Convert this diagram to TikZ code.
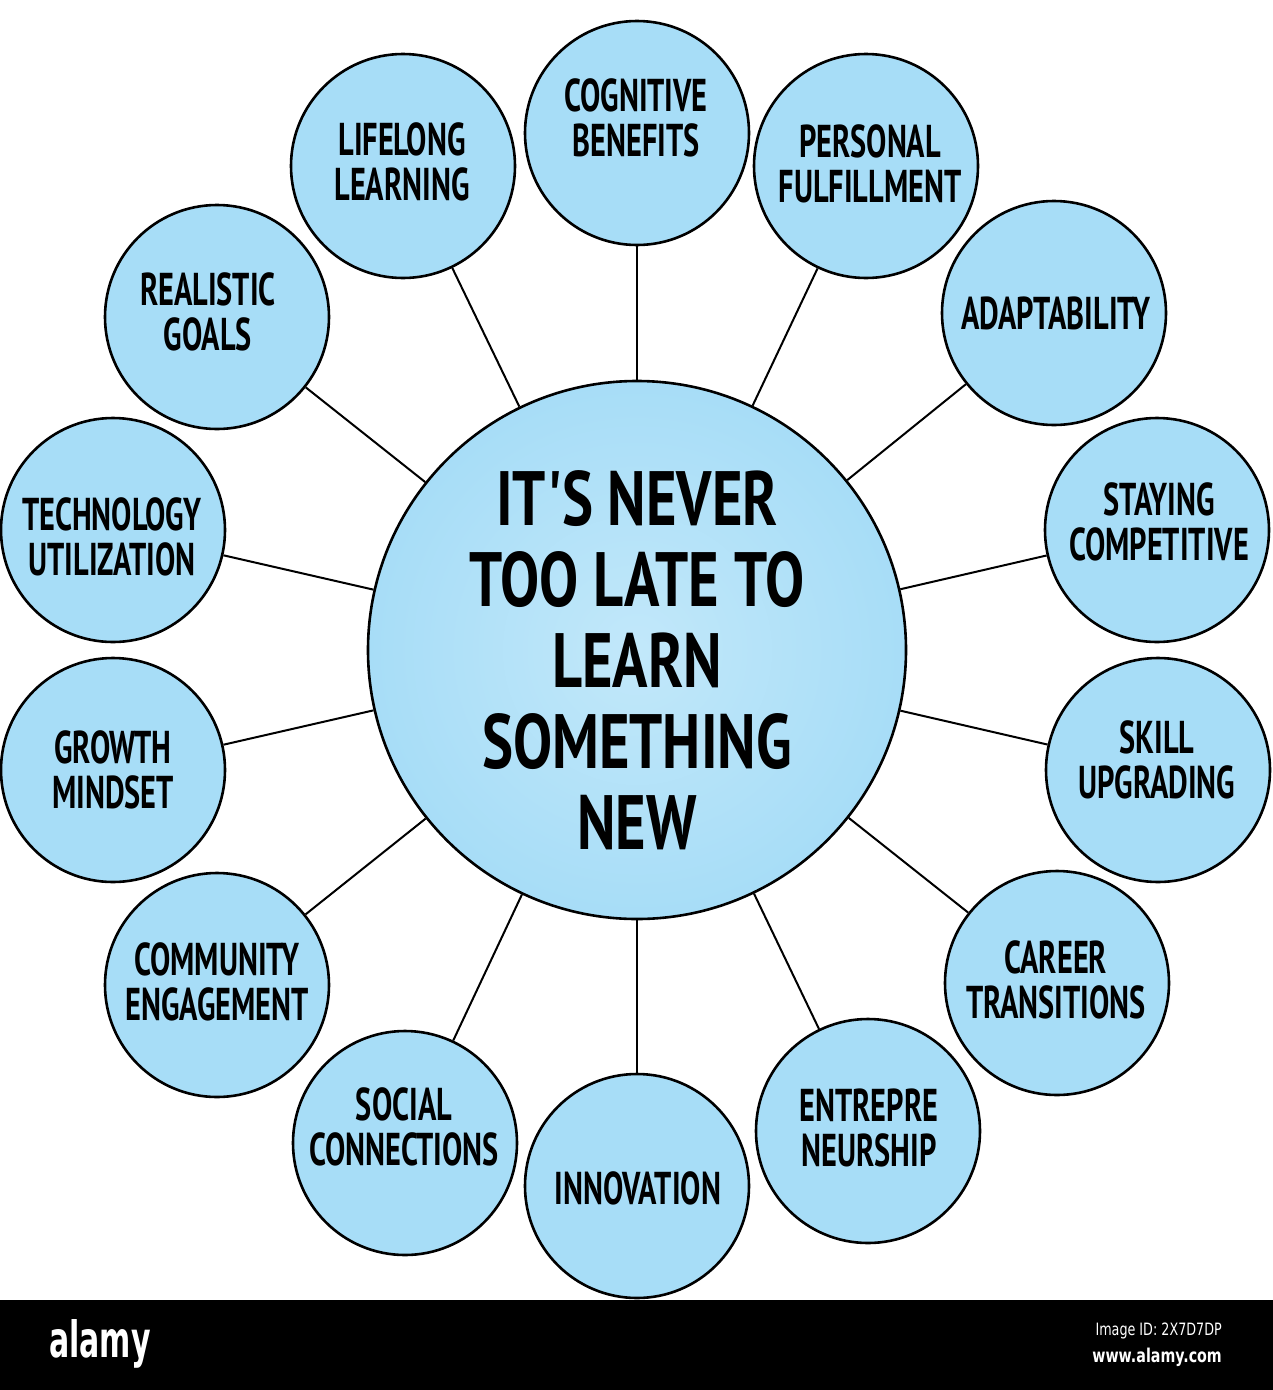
\documentclass[tikz,border=0pt]{standalone}
\usepackage{fontspec}
\newfontfamily\handfont{PT Sans}[FakeStretch=0.66]
\newfontfamily\bigfont{PT Sans}[FakeStretch=0.76]
\newfontfamily\logofont{DejaVu Sans}[FakeStretch=0.6]
\newfontfamily\smallfont{DejaVu Sans}[FakeStretch=0.75]
\definecolor{bub}{HTML}{A7DDF7}
\definecolor{hubin}{HTML}{C2E8FA}
\tikzset{
  bubble/.style={circle, draw=black, line width=2.6pt, fill=bub, minimum size=224pt, inner sep=0pt},
  hub/.style={circle, draw=black, line width=2.6pt, inner color=hubin, outer color=bub, minimum size=538pt, inner sep=0pt},
  lab/.style={align=center, inner sep=0pt, font=\handfont\bfseries\fontsize{46}{45}\selectfont},
  hublab/.style={align=center, inner sep=0pt, font=\bigfont\bfseries\fontsize{77}{81}\selectfont},
  link/.style={line width=2pt},
}
\begin{document}
\begin{tikzpicture}[x=1pt,y=-1pt]
\useasboundingbox (0,0) rectangle (1273,1390);
\fill[white] (0,0) rectangle (1273,1390);
\node[hub] (hub) at (637,650) {};
\node[bubble] (c1) at (637,133) {};
\node[bubble] (c2) at (866,166) {};
\node[bubble] (c3) at (1054,313) {};
\node[bubble] (c4) at (1157,530) {};
\node[bubble] (c5) at (1158,770) {};
\node[bubble] (c6) at (1057,983) {};
\node[bubble] (c7) at (868,1131) {};
\node[bubble] (c8) at (637,1186) {};
\node[bubble] (c9) at (405,1143) {};
\node[bubble] (c10) at (217,985) {};
\node[bubble] (c11) at (113,770) {};
\node[bubble] (c12) at (113,530) {};
\node[bubble] (c13) at (217,317) {};
\node[bubble] (c14) at (403,166) {};
\foreach \i in {1,...,14} { \draw[link] (hub) -- (c\i); }
\node[hublab] (hubt) at (637,660) {IT'S NEVER\\TOO LATE TO\\LEARN\\SOMETHING\\NEW};
\node[lab] (t1) at (636,118) {COGNITIVE\\BENEFITS};
\node[lab] (t2) at (870,164) {PERSONAL\\FULFILLMENT};
\node[lab] (t3) at (1056,313) {ADAPTABILITY};
\node[lab] (t4) at (1159,522) {STAYING\\COMPETITIVE};
\node[lab] (t5) at (1157,760) {SKILL\\UPGRADING};
\node[lab] (t6) at (1056,980) {CAREER\\TRANSITIONS};
\node[lab] (t7) at (869,1128) {ENTREPRE\\NEURSHIP};
\node[lab] (t8) at (638,1188) {INNOVATION};
\node[lab] (t9) at (404,1127) {SOCIAL\\CONNECTIONS};
\node[lab] (t10) at (217,982) {COMMUNITY\\ENGAGEMENT};
\node[lab] (t11) at (113,770) {GROWTH\\MINDSET};
\node[lab] (t12) at (112,537) {TECHNOLOGY\\UTILIZATION};
\node[lab] (t13) at (208,312) {REALISTIC\\GOALS};
\node[lab] (t14) at (402,162) {LIFELONG\\LEARNING};
\fill[black] (0,1300) rectangle (1273,1390);
\node[anchor=west, inner sep=0pt, text=white, font=\logofont\bfseries\fontsize{50}{50}\selectfont] (logo) at (49,1344) {alamy};
\node[anchor=east, inner sep=0pt, text=white, font=\smallfont\fontsize{17}{17}\selectfont] (imgid) at (1222,1331) {Image ID: 2X7D7DP};
\node[anchor=east, inner sep=0pt, text=white, font=\smallfont\bfseries\fontsize{19}{19}\selectfont] (www) at (1222,1357) {www.alamy.com};
\end{tikzpicture}
\end{document}
